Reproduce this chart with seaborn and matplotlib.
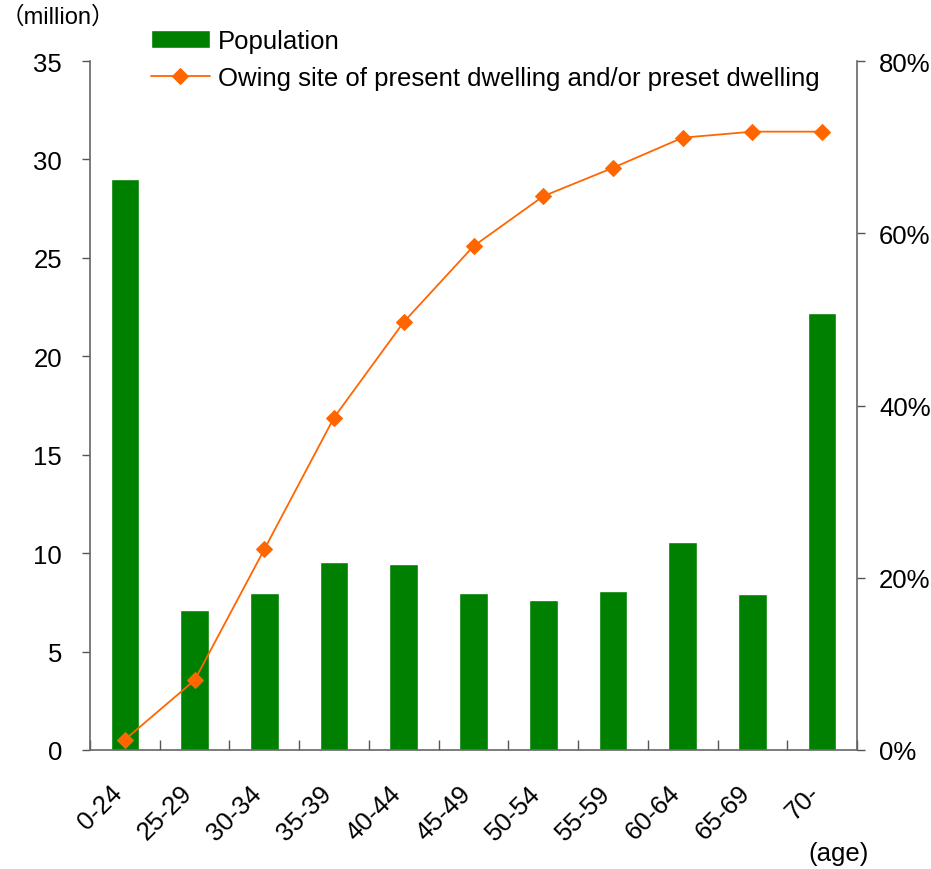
import matplotlib
matplotlib.use('Agg')
import matplotlib.pyplot as plt
import matplotlib.transforms as mtransforms
import seaborn as sns
import pandas as pd
import numpy as np

# data
ages = ['0-24', '25-29', '30-34', '35-39', '40-44', '45-49', '50-54', '55-59', '60-64', '65-69', '70-']
population = [29.0, 7.1, 8.0, 9.55, 9.45, 8.0, 7.6, 8.1, 10.55, 7.9, 22.2]
owning_pct = [1.2, 8.1, 23.3, 38.6, 49.7, 58.5, 64.3, 67.6, 71.1, 71.8, 71.8]

df = pd.DataFrame({'age': ages, 'population': population, 'owning': owning_pct})

sns.set_style('white')
plt.rcParams['font.family'] = ['Liberation Sans', 'Noto Sans CJK JP', 'DejaVu Sans']
plt.rcParams['text.color'] = 'black'
plt.rcParams['xtick.color'] = 'black'
plt.rcParams['ytick.color'] = 'black'

green = '#008000'
orange = '#FF6600'
fs = 18.5

fig = plt.figure(figsize=(9.31, 8.7), dpi=100)
ax = fig.add_axes([0.0967, 0.1368, 0.8238, 0.7919])

sns.barplot(data=df, x='age', y='population', color=green, width=0.41,
            saturation=1, ax=ax, label='Population')

ax2 = ax.twinx()
sns.lineplot(x=np.arange(len(ages)), y=df['owning'], ax=ax2, color=orange,
             marker='D', markersize=8, markeredgecolor=orange, linewidth=1.3,
             label='Owing site of present dwelling and/or preset dwelling')

ax.set_xlim(-0.5, len(ages) - 0.5)
ax.set_ylim(0, 35)
ax.set_yticks(range(0, 36, 5))
ax2.set_ylim(0, 80)
ax2.set_yticks(range(0, 81, 20))
ax2.set_yticklabels([f'{v}%' for v in range(0, 81, 20)])

ax.set_xlabel('')
ax.set_ylabel('')
ax2.set_xlabel('')
ax2.set_ylabel('')

# category labels, ticks between categories
ax.set_xticks(range(len(ages)))
ax.set_xticklabels(ages, rotation=45, ha='right', rotation_mode='anchor')
ax.set_xticks(np.arange(-0.5, len(ages), 1), minor=True)
ax.tick_params(axis='x', which='major', bottom=True, length=0, labelsize=fs, pad=22)
ax.tick_params(axis='x', which='minor', bottom=True, direction='in', length=7, width=1,
               color='#555555')
ax.tick_params(axis='y', left=True, direction='out', length=6, width=1, color='#555555',
               labelsize=fs, pad=14, labelcolor='black')
ax2.tick_params(axis='y', right=True, direction='out', length=6, width=1, color='#555555',
                labelsize=fs, pad=10, labelcolor='black')

shift = mtransforms.ScaledTranslation(-0.15, 0, fig.dpi_scale_trans)
for lbl in ax.get_xticklabels():
    lbl.set_transform(lbl.get_transform() + shift)

for a in (ax, ax2):
    a.spines['top'].set_visible(False)
    for s in ('left', 'right', 'bottom'):
        a.spines[s].set_color('#666666')
        a.spines[s].set_linewidth(1.2)
ax.spines['right'].set_visible(False)
ax2.spines['left'].set_visible(False)
ax2.spines['bottom'].set_visible(False)

# legend
h1, l1 = ax.get_legend_handles_labels()
h2, l2 = ax2.get_legend_handles_labels()
if ax.get_legend():
    ax.get_legend().remove()
if ax2.get_legend():
    ax2.get_legend().remove()
fig.legend(h1 + h2, l1 + l2, loc='upper left', bbox_to_anchor=(0.151, 0.977),
           frameon=False, fontsize=fs, handlelength=2.3, handletextpad=0.3,
           labelspacing=0.5, borderaxespad=0)

fig.text(0.001, 0.993, '（million）', fontsize=17, va='top', ha='left')
fig.text(0.933, 0.005, '(age)', fontsize=fs, va='bottom', ha='right')

fig.savefig('out.png', dpi=100)
